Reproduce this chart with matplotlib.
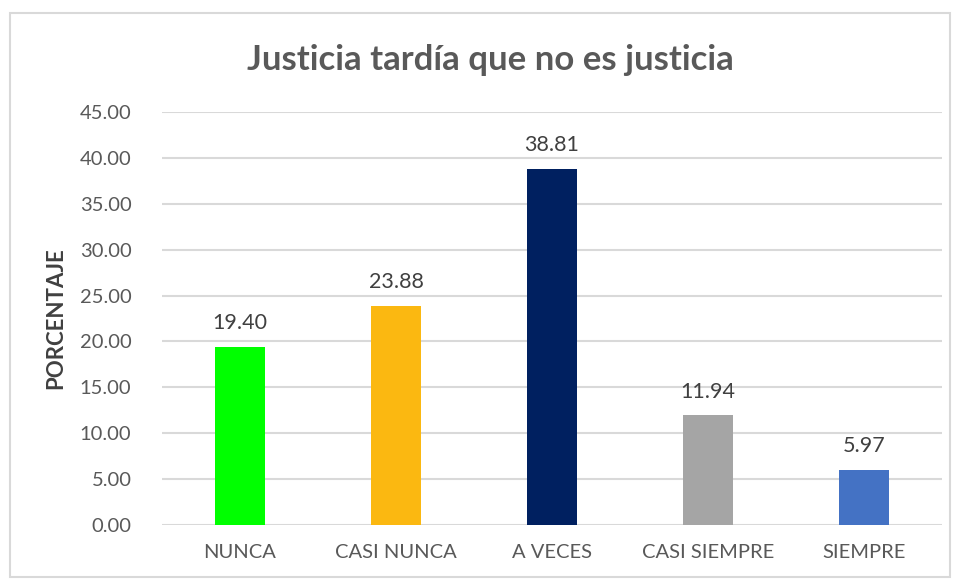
import matplotlib
matplotlib.use("Agg")
import matplotlib.pyplot as plt
from matplotlib.patches import Rectangle

categorias = ["NUNCA", "CASI NUNCA", "A VECES", "CASI SIEMPRE", "SIEMPRE"]
porcentajes = [19.40, 23.88, 38.81, 11.94, 5.97]
colores = ["#00FF00", "#FBB811", "#002060", "#A5A5A5", "#4472C4"]
yticks = [0, 5, 10, 15, 20, 25, 30, 35, 40, 45]

plt.rcParams['font.family'] = ['Lato', 'DejaVu Sans']

fig = plt.figure(figsize=(9.57, 5.79), dpi=100)
ax = fig.add_axes([0.1693, 0.0933, 0.815, 0.7133])

# chart border
fig.patches.append(Rectangle((10/957, 2/579), 940/957, 564/579, transform=fig.transFigure,
                             fill=False, edgecolor="#D9D9D9", linewidth=1.5))

x = range(len(categorias))
bars = ax.bar(x, porcentajes, width=0.315, color=colores, zorder=3)

for b, v in zip(bars, porcentajes):
    ax.text(b.get_x() + b.get_width() / 2, v + 1.5, "%.2f" % v,
            ha="center", va="bottom", fontsize=15.5, color="#404040")

ax.set_xlim(-0.5, len(categorias) - 0.5)
ax.set_ylim(0, 45)
ax.set_yticks(yticks)
ax.set_yticklabels(["%.2f" % t for t in yticks])
ax.set_xticks(list(x))
ax.set_xticklabels(categorias)
ax.tick_params(axis="both", length=0, labelsize=14.5, labelcolor="#595959")
ax.tick_params(axis="y", pad=22)
ax.tick_params(axis="x", pad=14)
ax.grid(axis="y", color="#D9D9D9", linewidth=1.5, zorder=0)
for s in ax.spines.values():
    s.set_visible(False)

ax.set_ylabel("PORCENTAJE", fontsize=16, fontweight="bold", color="#404040", labelpad=10)
fig.text(0.512, 0.897, "Justicia tardía que no es justicia", ha="center", va="center",
         fontsize=25, fontweight="bold", color="#595959")

fig.savefig("out.png", dpi=100)
